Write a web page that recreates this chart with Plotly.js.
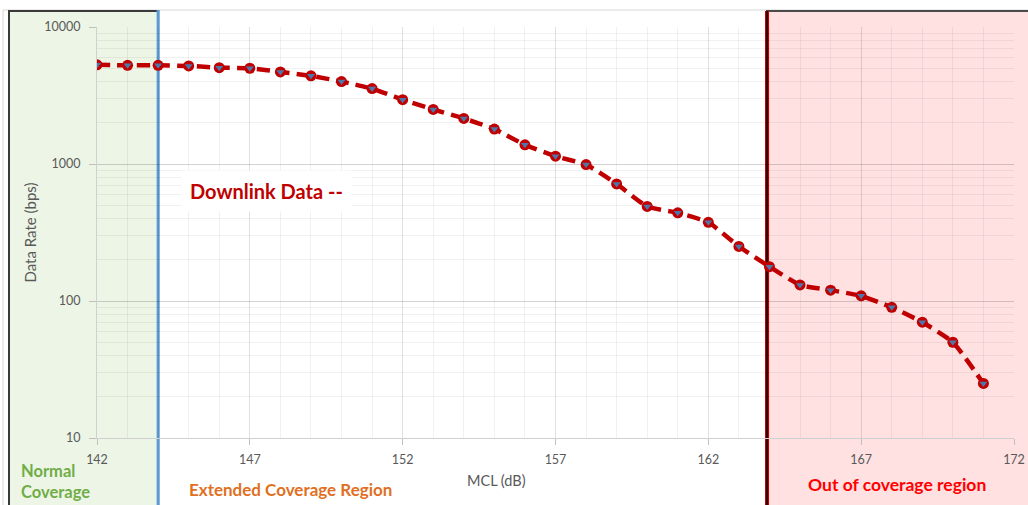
<!DOCTYPE html>
<html>
<head>
<meta charset="utf-8">
<script src="https://cdn.plot.ly/plotly-3.0.1.min.js"></script>
<style>html,body{margin:0;padding:0;background:#fff;}#chart{width:1028px;height:505px;}</style>
</head>
<body>
<div id="chart"></div>
<script>
// ---- data ----
const mcl = [142,143,144,145,146,147,148,149,150,151,152,153,154,155,156,157,158,159,160,161,162,163,164,165,166,167,168,169,170,171];
const dataRate = [5300,5250,5250,5200,5050,5000,4700,4400,4000,3550,2950,2500,2150,1800,1380,1140,990,715,490,440,375,250,178,131,120,109,90,70,50,25];
const yTickVals = [10,100,1000,10000];
const yTickText = ["10","100","1000","10000"];
const regionLabels = ["Normal<br>Coverage","Extended Coverage Region","Out of coverage region"];
const seriesLabel = "Downlink Data --";
const normalEdge = 144;     // dB, end of normal coverage
const outEdge = 163.92;     // dB, start of out-of-coverage region

// ---- layout geometry ----
const W = 1028, H = 505, L = 97, R = 14, T = 27, B = 67;
const pw = W - L - R, ph = H - T - B;
const X0 = 142, X1 = 172;
const px = p => (p - L) / pw;           // pixel -> paper x
const py = p => (H - B - p) / ph;       // pixel -> paper y
const dx = v => (v - X0) / (X1 - X0);   // data -> paper x

const font = "Lato, 'Open Sans', sans-serif";

const traces = [
  {
    x: mcl, y: dataRate, type: 'scatter', mode: 'lines+markers',
    line: {color: '#C00000', width: 4.5, dash: '13px,7px', shape: 'spline', smoothing: 0.5},
    marker: {symbol: 'circle', size: 11, color: '#C00000', line: {width: 0}},
    hoverinfo: 'x+y', showlegend: false
  },
  {
    x: mcl, y: dataRate, type: 'scatter', mode: 'markers',
    marker: {symbol: 'triangle-down', size: 7, color: '#4F76A8', line: {width: 0}},
    hoverinfo: 'skip', showlegend: false
  }
];

const shapes = [
  // outer light frame
  {type: 'rect', xref: 'paper', yref: 'paper', x0: px(3), x1: px(1040), y0: py(520), y1: py(10),
   line: {color: '#D6D6D6', width: 1}, fillcolor: 'rgba(0,0,0,0)', layer: 'below'},
  // normal coverage region
  {type: 'rect', xref: 'paper', yref: 'paper', x0: px(9), x1: dx(normalEdge), y0: py(520), y1: py(11),
   line: {color: '#3A3A3A', width: 2}, fillcolor: '#EDF5E6', layer: 'below'},
  // out of coverage region
  {type: 'rect', xref: 'paper', yref: 'paper', x0: dx(outEdge), x1: px(1040), y0: py(520), y1: py(11),
   line: {color: '#4A4A4A', width: 2}, fillcolor: '#FFE1E2', layer: 'below'},
  // blue boundary
  {type: 'line', xref: 'paper', yref: 'paper', x0: dx(normalEdge), x1: dx(normalEdge), y0: py(520), y1: py(10),
   line: {color: '#5B9BD5', width: 3}, layer: 'below'},
  // dark red boundary
  {type: 'line', xref: 'paper', yref: 'paper', x0: dx(outEdge), x1: dx(outEdge), y0: py(520), y1: py(11),
   line: {color: '#C00000', width: 4}, layer: 'below'},
  {type: 'line', xref: 'paper', yref: 'paper', x0: dx(outEdge), x1: dx(outEdge), y0: py(520), y1: py(11),
   line: {color: '#3A0000', width: 2}, layer: 'below'}
];

const annotations = [
  {text: seriesLabel, xref: 'paper', yref: 'paper', x: px(266), y: py(191), xanchor: 'center', yanchor: 'middle',
   showarrow: false, bgcolor: '#FFFFFF', borderpad: 8,
   font: {family: font, size: 20, color: '#C00000', weight: 'bold'}},
  {text: regionLabels[0], xref: 'paper', yref: 'paper', x: px(19), y: py(481), xanchor: 'left', yanchor: 'middle',
   align: 'left', showarrow: false, font: {family: font, size: 16.5, color: '#70AD47', weight: 'bold'}},
  {text: regionLabels[1], xref: 'paper', yref: 'paper', x: px(290), y: py(489), xanchor: 'center', yanchor: 'middle',
   showarrow: false, font: {family: font, size: 17, color: '#E0701F', weight: 'bold'}},
  {text: regionLabels[2], xref: 'paper', yref: 'paper', x: px(897), y: py(484), xanchor: 'center', yanchor: 'middle',
   showarrow: false, font: {family: font, size: 17.5, color: '#FF0000', weight: 'bold'}},
  {text: 'MCL (dB)', xref: 'paper', yref: 'paper', x: px(496), y: py(480), xanchor: 'center', yanchor: 'middle',
   showarrow: false, font: {family: font, size: 14.5, color: '#595959'}}
];

const layout = {
  width: W, height: H,
  margin: {l: L, r: R, t: T, b: B, pad: 0},
  paper_bgcolor: '#FFFFFF', plot_bgcolor: 'rgba(0,0,0,0)',
  font: {family: font, size: 12, color: '#595959'},
  xaxis: {
    range: [X0, X1], tick0: 142, dtick: 5, ticks: 'outside', ticklen: 6, tickcolor: '#BFBFBF',
    showline: true, linecolor: '#D0D0D0', linewidth: 1,
    showgrid: true, gridcolor: 'rgba(0,0,0,0.12)', zeroline: false,
    minor: {dtick: 1, showgrid: true, gridcolor: 'rgba(0,0,0,0.055)'},
    tickfont: {family: font, size: 12.5, color: '#595959'}, ticklabelstandoff: 4
  },
  yaxis: {
    type: 'log', range: [1, 4], tickmode: 'array', tickvals: yTickVals, ticktext: yTickText,
    ticks: 'outside', ticklen: 7, tickcolor: '#BFBFBF',
    showline: true, linecolor: '#D0D0D0', linewidth: 1,
    showgrid: true, gridcolor: 'rgba(0,0,0,0.12)', zeroline: false,
    minor: {dtick: 'D1', showgrid: true, gridcolor: 'rgba(0,0,0,0.055)'},
    tickfont: {family: font, size: 12.5, color: '#595959'}, ticklabelstandoff: 6,
    title: {text: 'Data Rate (bps)', font: {family: font, size: 15, color: '#595959'}, standoff: 4}
  },
  shapes: shapes,
  annotations: annotations,
  showlegend: false
};

Plotly.newPlot('chart', traces, layout, {displayModeBar: false, staticPlot: true});
</script>
</body>
</html>
